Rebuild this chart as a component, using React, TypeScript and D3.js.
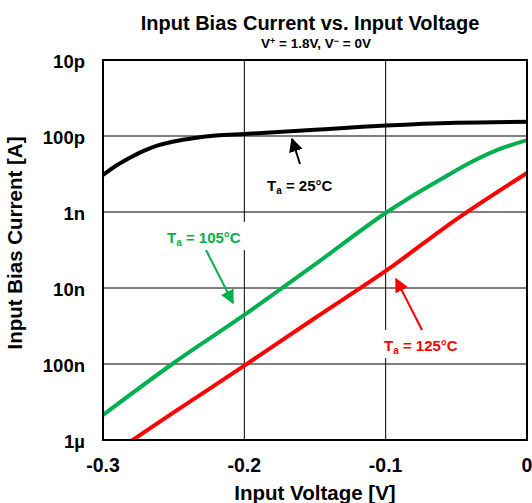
import React from "react";
import * as d3 from "d3";

const voltageTicks = [-0.3, -0.2, -0.1, 0];
const currentTicks = [1e-11, 1e-10, 1e-9, 1e-8, 1e-7, 1e-6];
const currentTickLabels = ["10p", "100p", "1n", "10n", "100n", "1µ"];

const v25 = [-0.3, -0.29, -0.28, -0.27, -0.26, -0.25, -0.235, -0.22, -0.2, -0.15, -0.1, -0.05, 0];
const i25 = [3.26e-10, 2.41e-10, 1.89e-10, 1.53e-10, 1.31e-10, 1.18e-10, 1.06e-10, 9.85e-11, 9.4e-11, 8.3e-11, 7.3e-11, 6.7e-11, 6.5e-11];

const v105 = [-0.3, -0.25, -0.2, -0.15, -0.1, -0.08, -0.06, -0.04, -0.02, 0];
const i105 = [4.69e-7, 9.7e-8, 2.26e-8, 4.9e-9, 1.03e-9, 5.97e-10, 3.62e-10, 2.23e-10, 1.5e-10, 1.13e-10];

const v125 = [-0.3, -0.25, -0.2, -0.15, -0.1, -0.05, 0];
const i125 = [1.83e-6, 4.34e-7, 1.05e-7, 2.48e-8, 5.97e-9, 1.25e-9, 3.07e-10];

const W = 532, H = 503;
const L = 103, R = 527, T = 60, B = 440;
const FONT = "'Liberation Sans', Arial, sans-serif";

export default function App() {
  const x = d3.scaleLinear().domain([-0.3, 0]).range([L, R]);
  const y = d3.scaleLog().domain([1e-11, 1e-6]).range([T, B]);
  const line = d3.line<[number, number]>().x(d => x(d[0])).y(d => y(d[1])).curve(d3.curveMonotoneX);
  const mk = (vs: number[], is: number[]) => line(vs.map((v, k) => [v, is[k]] as [number, number])) || "";

  return (
    <svg width={W} height={H} style={{ position: "absolute", left: 0, top: 0, background: "#fff" }} fontFamily={FONT}>
      <defs>
        <clipPath id="plot"><rect x={L} y={T} width={R - L} height={B - T} /></clipPath>
        <marker id="ahK" viewBox="0 0 10 10" refX="9" refY="5" markerWidth="7" markerHeight="7" orient="auto"><path d="M0,0 L10,5 L0,10 z" fill="#000" /></marker>
        <marker id="ahG" viewBox="0 0 10 10" refX="9" refY="5" markerWidth="7" markerHeight="7" orient="auto"><path d="M0,0 L10,5 L0,10 z" fill="#00b050" /></marker>
        <marker id="ahR" viewBox="0 0 10 10" refX="9" refY="5" markerWidth="7" markerHeight="7" orient="auto"><path d="M0,0 L10,5 L0,10 z" fill="#ff0000" /></marker>
      </defs>
      <text x={310} y={30} textAnchor="middle" fontWeight="bold" fontSize={20}>Input Bias Current vs. Input Voltage</text>
      <text x={316} y={48} textAnchor="middle" fontWeight="bold" fontSize={13.5}>
        V<tspan dy={-4} fontSize={9}>+</tspan><tspan dy={4}> = 1.8V, V</tspan><tspan dy={-4} fontSize={9}>−</tspan><tspan dy={4}> = 0V</tspan>
      </text>
      {/* grid */}
      {currentTicks.map((t, k) => (
        <line key={"h" + k} x1={L} x2={R} y1={y(t)} y2={y(t)} stroke="#000" strokeWidth={1} />
      ))}
      {voltageTicks.map((t, k) => (
        <line key={"v" + k} x1={x(t)} x2={x(t)} y1={T} y2={B} stroke="#000" strokeWidth={1} />
      ))}
      {/* label backgrounds */}
      <rect x={160} y={222} width={92} height={28} fill="#fff" />
      <rect x={376} y={330} width={92} height={28} fill="#fff" />
      <g clipPath="url(#plot)" fill="none" strokeWidth={4} strokeLinejoin="round">
        <path d={mk(v125, i125)} stroke="#ff0000" />
        <path d={mk(v105, i105)} stroke="#00b050" />
        <path d={mk(v25, i25)} stroke="#000" />
      </g>
      <rect x={L} y={T} width={R - L} height={B - T} fill="none" stroke="#000" strokeWidth={2} />
      {currentTicks.map((t, k) => (
        <text key={"yl" + k} x={85} y={y(t) + 8} textAnchor="end" fontWeight="bold" fontSize={18.5}>{currentTickLabels[k]}</text>
      ))}
      {voltageTicks.map((t, k) => (
        <text key={"xl" + k} x={x(t)} y={472} textAnchor="middle" fontWeight="bold" fontSize={19.5}>{t === 0 ? "0" : String(t)}</text>
      ))}
      <text x={315} y={500} textAnchor="middle" fontWeight="bold" fontSize={20.5}>Input Voltage [V]</text>
      <text transform="translate(22,243) rotate(-90)" textAnchor="middle" fontWeight="bold" fontSize={20.5}>Input Bias Current [A]</text>
      {/* annotations */}
      <line x1={300} y1={164} x2={292} y2={139} stroke="#000" strokeWidth={2} markerEnd="url(#ahK)" />
      <text x={267} y={191} fontWeight="bold" fontSize={15}>T<tspan dy={3} fontSize={10}>a</tspan><tspan dy={-3}> = 25°C</tspan></text>
      <line x1={206} y1={250} x2={233} y2={303} stroke="#00b050" strokeWidth={2} markerEnd="url(#ahG)" />
      <text x={167} y={243} fontWeight="bold" fontSize={15} fill="#00b050">T<tspan dy={3} fontSize={10}>a</tspan><tspan dy={-3}> = 105°C</tspan></text>
      <line x1={422} y1={330} x2={396} y2={279} stroke="#ff0000" strokeWidth={2} markerEnd="url(#ahR)" />
      <text x={384} y={351} fontWeight="bold" fontSize={15} fill="#ff0000">T<tspan dy={3} fontSize={10}>a</tspan><tspan dy={-3}> = 125°C</tspan></text>
    </svg>
  );
}
